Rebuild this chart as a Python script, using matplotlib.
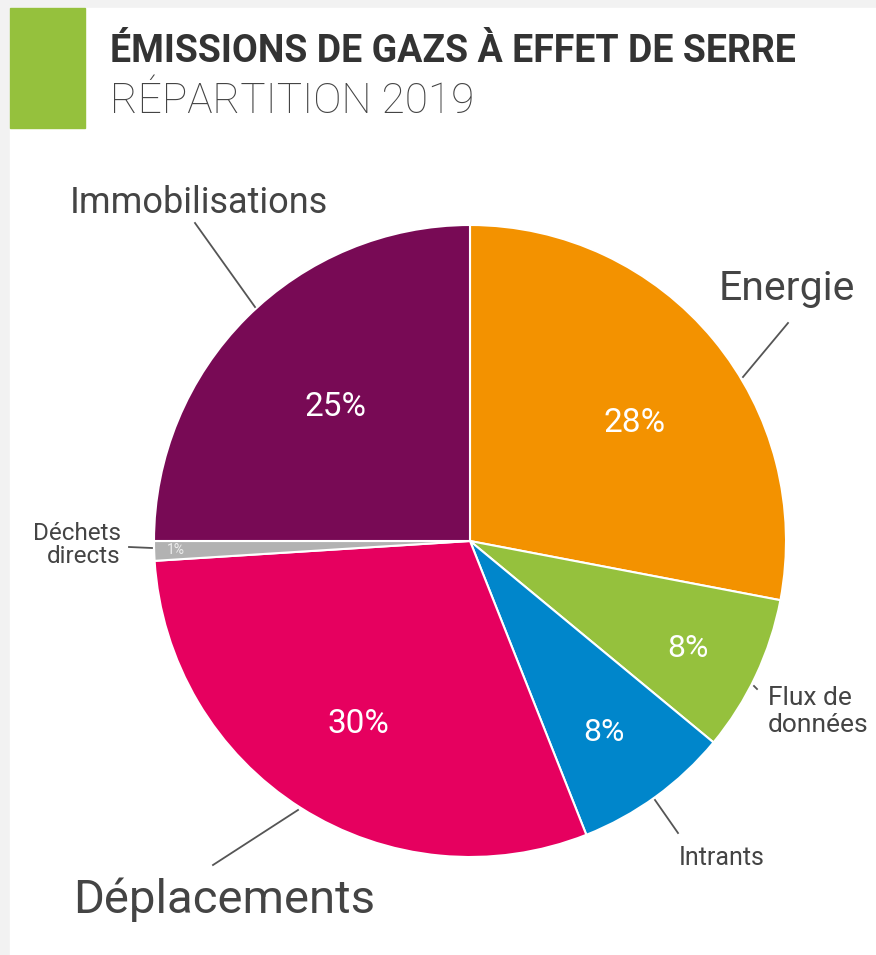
import numpy as np
import matplotlib.pyplot as plt
from matplotlib.patches import Rectangle

# Data
categories = ['Energie', 'Flux de données', 'Intrants', 'Déplacements',
              'Déchets directs', 'Immobilisations']
values = [28, 8, 8, 30, 1, 25]
colors = ['#f39200', '#95c13d', '#0086cb', '#e6005f', '#b2b2b2', '#780a55']

title = 'ÉMISSIONS DE GAZS À EFFET DE SERRE'
subtitle = 'RÉPARTITION 2019'

W, H = 876, 955
cx, cy, R = 470, 541, 316

plt.rcParams['font.family'] = ['Roboto', 'DejaVu Sans']

fig = plt.figure(figsize=(W / 100, H / 100), dpi=100, facecolor='#f2f2f2')
ax = fig.add_axes([0, 0, 1, 1])

# white card + green block
ax.add_patch(Rectangle((10, 8), W - 10, H - 8, color='white', zorder=0))
ax.add_patch(Rectangle((10, 8), 75, 120, color='#95c13d', zorder=1))

ax.text(110, 62, title, fontsize=27, fontweight='bold', color='#333333', va='baseline')
ax.text(110, 113, subtitle, fontsize=30.5, fontweight='light', color='#444444', va='baseline')

# y axis is inverted, so counterclockwise in data reads clockwise on screen
wedges, _ = ax.pie(values, colors=colors, startangle=-90, counterclock=True,
                   center=(cx, cy), radius=R,
                   wedgeprops=dict(edgecolor='white', linewidth=1.5))

# percentage labels inside the slices
pct_r = [0.64, 0.77, 0.74, 0.68, 0.93, 0.60]
pct_shift = [4, 1, 1, -1, 0, 0]   # degrees, clockwise
pct_size = [24, 23, 23, 24, 10, 24]
pct_color = ['white'] * 4 + ['#eeeeee', 'white']
for w, v, f, d, s, c in zip(wedges, values, pct_r, pct_shift, pct_size, pct_color):
    a = np.deg2rad((w.theta1 + w.theta2) / 2 + d)
    ax.text(cx + f * R * np.cos(a), cy + f * R * np.sin(a), f'{v}%',
            fontsize=s, color=c, ha='center', va='center')

# outside labels with leader lines
lc = '#555555'
tc = '#444444'
ax.plot([195, 255], [223, 307], color=lc, lw=1.3)
ax.text(199, 213, categories[5], fontsize=26, color=tc, ha='center', va='baseline')

ax.plot([743, 788], [377, 323], color=lc, lw=1.3)
ax.text(787, 300, categories[0], fontsize=29.5, color=tc, ha='center', va='baseline')

ax.plot([754, 757], [686, 689], color=lc, lw=1.3)
ax.text(768, 705, 'Flux de', fontsize=19, color=tc, ha='left', va='baseline')
ax.text(768, 732, 'données', fontsize=19, color=tc, ha='left', va='baseline')

ax.plot([655, 678], [800, 833], color=lc, lw=1.3)
ax.text(722, 865, categories[2], fontsize=18, color=tc, ha='center', va='baseline')

ax.plot([213, 298], [865, 810], color=lc, lw=1.3)
ax.text(73, 913, categories[3], fontsize=34, color=tc, ha='left', va='baseline')

ax.plot([129, 152], [547, 548], color=lc, lw=1.3)
ax.text(121, 540, 'Déchets', fontsize=17.5, color=tc, ha='right', va='baseline')
ax.text(121, 563, 'directs', fontsize=17.5, color=tc, ha='right', va='baseline')

ax.set_xlim(0, W)
ax.set_ylim(H, 0)
ax.set_aspect('equal')
ax.axis('off')

fig.savefig('out.png', dpi=100, facecolor=fig.get_facecolor())
